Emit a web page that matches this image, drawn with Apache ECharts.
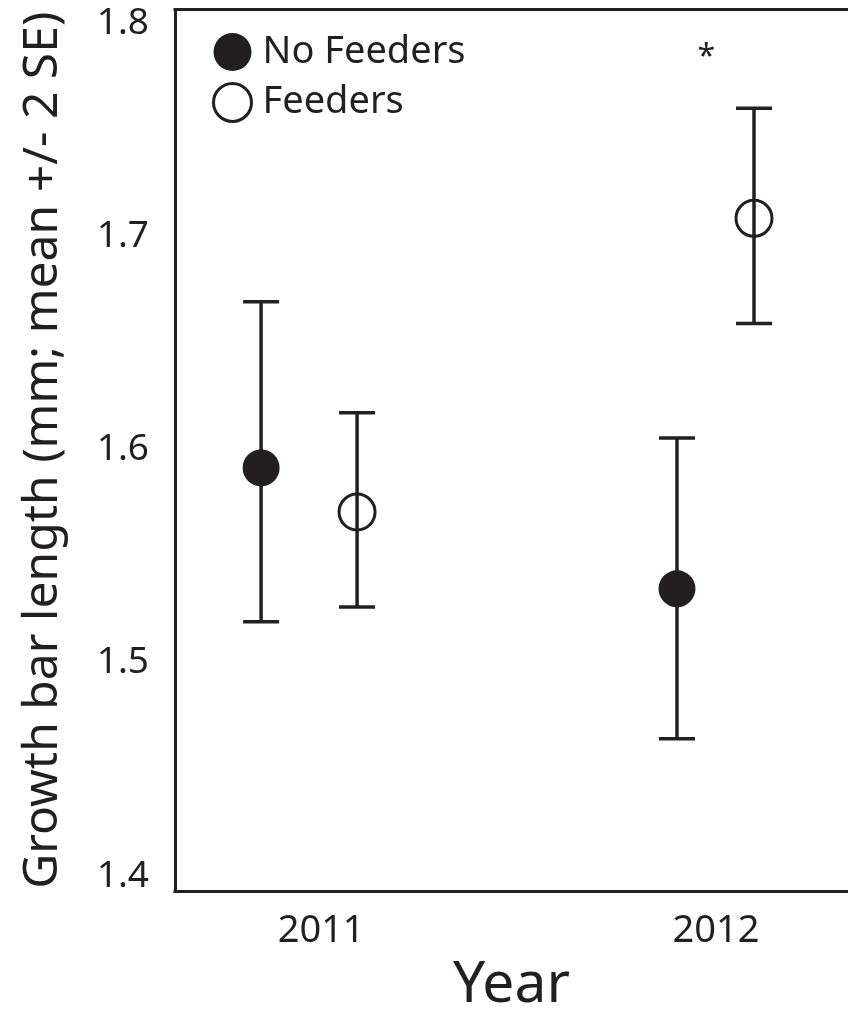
<!DOCTYPE html>
<html>
<head>
<meta charset="utf-8">
<title>Growth bar length</title>
<script src="https://cdn.jsdelivr.net/npm/echarts@6/dist/echarts.min.js"></script>
<style>
  html, body { margin: 0; padding: 0; background: #fff; }
  #chart { width: 848px; height: 1011px; }
</style>
</head>
<body>
<div id="chart"></div>
<script>
// data
var years = [2011, 2012];
var groups = ['No Feeders', 'Feeders'];
// horizontal dodge of each group inside a year (in year units)
var dodgeNoFeeders = [-0.152, -0.099];
var dodgeFeeders = [0.091, 0.096];
var meanNoFeeders = [1.5915, 1.5348];
var upperNoFeeders = [1.6695, 1.6056];
var lowerNoFeeders = [1.5193, 1.4644];
var meanFeeders = [1.5708, 1.7086];
var upperFeeders = [1.6174, 1.7603];
var lowerFeeders = [1.5262, 1.6593];
var yTicks = [1.4, 1.5, 1.6, 1.7, 1.8];
// significance star
var starYear = [2012];
var starDodge = [-0.025];
var starValue = [1.787];

var ink = '#231f20';
var font = 'Noto Sans';

function points(mean, dodge) {
  var out = [];
  for (var i = 0; i < years.length; i++) {
    out.push([years[i] + dodge[i], mean[i]]);
  }
  return out;
}
function bars(lower, upper, dodge) {
  var out = [];
  for (var i = 0; i < years.length; i++) {
    out.push([years[i] + dodge[i], lower[i], upper[i]]);
  }
  return out;
}

// vertical whisker with two caps
function errorBar(params, api) {
  var x = api.value(0);
  var lo = api.coord([x, api.value(1)]);
  var hi = api.coord([x, api.value(2)]);
  var half = 18;
  var style = { stroke: ink, lineWidth: 3.5 };
  return {
    type: 'group',
    children: [
      { type: 'line', shape: { x1: lo[0], y1: lo[1], x2: hi[0], y2: hi[1] }, style: style },
      { type: 'line', shape: { x1: lo[0] - half, y1: lo[1], x2: lo[0] + half, y2: lo[1] }, style: style },
      { type: 'line', shape: { x1: hi[0] - half, y1: hi[1], x2: hi[0] + half, y2: hi[1] }, style: style }
    ]
  };
}

var starData = [];
for (var i = 0; i < starYear.length; i++) {
  starData.push([starYear[i] + starDodge[i], starValue[i]]);
}

var frameLine = { color: ink, width: 3, cap: 'square' };

var myChart = echarts.init(document.getElementById('chart'));
var option = {
  animation: false,
  textStyle: { fontFamily: font, color: ink },
  grid: { left: 175, top: 9.5, right: 0, bottom: 120, outerBoundsMode: 'none' },
  legend: {
    orient: 'vertical',
    left: 207, top: 28,
    itemWidth: 38, itemHeight: 38, itemGap: 11,
    icon: 'circle',
    textStyle: { fontSize: 38, color: ink, fontFamily: font, padding: [0, 0, 0, 6] },
    data: [
      { name: groups[0], itemStyle: { color: ink } },
      { name: groups[1], itemStyle: { color: 'rgba(0,0,0,0)', borderColor: ink, borderWidth: 3 } }
    ]
  },
  xAxis: [
    {
      type: 'value',
      min: 2010.63, max: 2012.334,
      name: 'Year',
      nameLocation: 'middle',
      nameGap: 66,
      nameTextStyle: { fontSize: 57, color: ink, fontFamily: font },
      axisLine: { show: true, onZero: false, lineStyle: frameLine },
      axisTick: { show: false },
      splitLine: { show: false },
      axisLabel: {
        customValues: years,
        formatter: function (v) { return String(Math.round(v)); },
        fontSize: 38, color: ink, margin: 21, fontFamily: font
      }
    },
    {
      // top edge of the frame
      type: 'value', position: 'top',
      min: 2010.63, max: 2012.334,
      axisLine: { show: true, onZero: false, lineStyle: frameLine },
      axisTick: { show: false },
      axisLabel: { show: false },
      splitLine: { show: false }
    }
  ],
  yAxis: {
    type: 'value',
    min: 1.393, max: 1.8066,
    name: 'Growth bar length (mm; mean +/- 2 SE)',
    nameLocation: 'middle',
    nameRotate: 90,
    nameGap: 108,
    nameTextStyle: { fontSize: 48, color: ink, fontFamily: font },
    axisLine: { show: true, onZero: false, lineStyle: frameLine },
    axisTick: { show: false },
    splitLine: { show: false },
    axisLabel: {
      customValues: yTicks,
      formatter: function (v) { return v.toFixed(1); },
      fontSize: 37, color: ink, margin: 26, fontFamily: font
    }
  },
  series: [
    {
      name: groups[0] + ' SE', type: 'custom', renderItem: errorBar,
      data: bars(lowerNoFeeders, upperNoFeeders, dodgeNoFeeders), z: 2
    },
    {
      name: groups[1] + ' SE', type: 'custom', renderItem: errorBar,
      data: bars(lowerFeeders, upperFeeders, dodgeFeeders), z: 2
    },
    {
      name: groups[0], type: 'scatter', symbol: 'circle', symbolSize: 37,
      itemStyle: { color: ink, opacity: 1 },
      data: points(meanNoFeeders, dodgeNoFeeders), z: 3
    },
    {
      name: groups[1], type: 'scatter', symbol: 'circle', symbolSize: 36,
      itemStyle: { color: 'rgba(0,0,0,0)', borderColor: ink, borderWidth: 3, opacity: 1 },
      data: points(meanFeeders, dodgeFeeders), z: 3
    },
    {
      name: 'significance', type: 'custom',
      renderItem: function (params, api) {
        var p = api.coord([api.value(0), api.value(1)]);
        return {
          type: 'text',
          style: {
            text: '*', x: p[0], y: p[1] + 7,
            align: 'center', verticalAlign: 'middle',
            font: '32px "Noto Sans"', fill: ink
          }
        };
      },
      data: starData, z: 3
    }
  ]
};
myChart.setOption(option);
</script>
</body>
</html>
